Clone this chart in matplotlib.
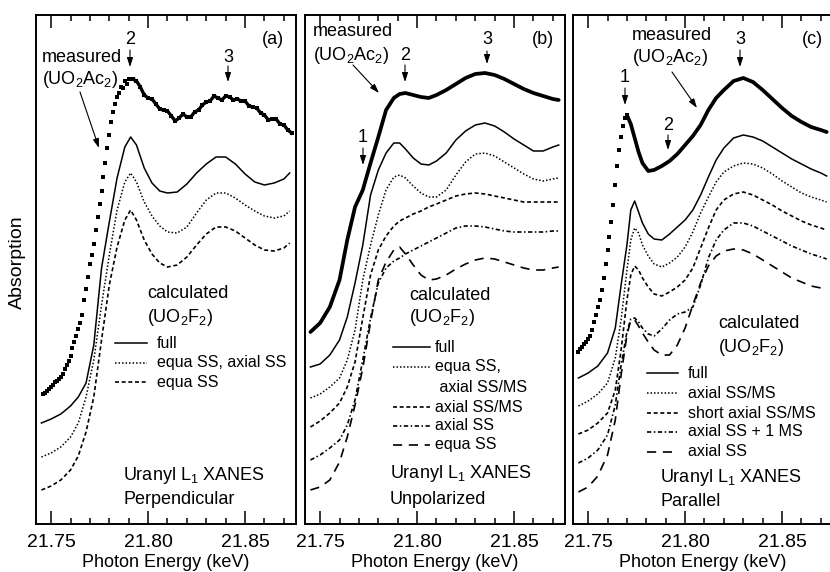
#!/usr/bin/env python3
"""Uranyl L1 XANES: measured UO2Ac2 vs calculated UO2F2 spectra, three polarisations."""
import matplotlib
matplotlib.use("Agg")
import matplotlib.pyplot as plt
from matplotlib.ticker import MultipleLocator, FormatStrFormatter

plt.rcParams["font.family"] = ["Liberation Sans", "DejaVu Sans"]
plt.rcParams["mathtext.fontset"] = "custom"
plt.rcParams["mathtext.rm"] = "Liberation Sans"
plt.rcParams["mathtext.it"] = "Liberation Sans:italic"
plt.rcParams["mathtext.default"] = "regular"

# ---- data (energy in keV, absorption in arbitrary offset units) ----
# panel (a) measured, dots
energy_a_meas = [
    21.746, 21.747, 21.748, 21.749, 21.750, 21.751, 21.752, 21.753, 21.754, 21.755,
    21.756, 21.757, 21.758, 21.759, 21.760, 21.761, 21.762, 21.763, 21.764, 21.765,
    21.766, 21.767, 21.768, 21.769, 21.770, 21.771, 21.772, 21.773, 21.774, 21.775,
    21.776, 21.777, 21.778, 21.779, 21.780, 21.781, 21.782, 21.783, 21.784, 21.785,
    21.786, 21.787, 21.788, 21.789, 21.790,
    21.792, 21.794, 21.796, 21.798, 21.800, 21.802, 21.804, 21.806, 21.808, 21.810,
    21.812, 21.814, 21.816, 21.818, 21.820, 21.822, 21.824, 21.826, 21.828, 21.830,
    21.832, 21.834, 21.836, 21.838, 21.840, 21.842, 21.844, 21.846, 21.848, 21.850,
    21.852, 21.854, 21.856, 21.858, 21.860, 21.862, 21.864, 21.866, 21.868, 21.870,
    21.872, 21.874,
]
abs_a_meas = [
    1.30, 1.31, 1.33, 1.35, 1.37, 1.39, 1.42, 1.43, 1.45, 1.47,
    1.50, 1.55, 1.59, 1.63, 1.68, 1.76, 1.82, 1.88, 1.95, 2.01,
    2.09, 2.24, 2.35, 2.47, 2.60, 2.69, 2.80, 2.94, 3.07, 3.20,
    3.33, 3.47, 3.61, 3.76, 3.89, 4.02, 4.12, 4.20, 4.27, 4.31,
    4.37, 4.36, 4.43, 4.40, 4.45,
    4.45, 4.43, 4.37, 4.29, 4.26, 4.25, 4.20, 4.15, 4.14, 4.13,
    4.08, 4.03, 4.06, 4.10, 4.07, 4.07, 4.12, 4.14, 4.19, 4.22,
    4.23, 4.28, 4.26, 4.24, 4.28, 4.27, 4.24, 4.25, 4.23, 4.23,
    4.18, 4.17, 4.16, 4.11, 4.09, 4.04, 4.05, 4.05, 4.00, 3.99,
    3.94, 3.91,
]

# common energy grid for the calculated curves of (a) and (b)
energy_ab = [
    21.745, 21.750, 21.755, 21.760, 21.764, 21.768, 21.772, 21.776, 21.780, 21.784,
    21.788, 21.791, 21.794, 21.798, 21.802, 21.806, 21.810, 21.815, 21.820, 21.825,
    21.830, 21.835, 21.840, 21.845, 21.850, 21.855, 21.860, 21.865, 21.870, 21.873,
]
abs_a_full = [1.01, 1.05, 1.10, 1.18, 1.27, 1.41, 1.79, 2.56, 3.02, 3.46,
              3.77, 3.87, 3.79, 3.56, 3.41, 3.33, 3.31, 3.32, 3.40, 3.51,
              3.60, 3.67, 3.67, 3.60, 3.50, 3.42, 3.39, 3.41, 3.45, 3.51]
abs_a_eq_ax = [0.67, 0.71, 0.77, 0.87, 1.01, 1.27, 1.64, 2.19, 2.69, 3.14,
               3.42, 3.51, 3.42, 3.22, 3.08, 2.98, 2.92, 2.91, 2.97, 3.11,
               3.24, 3.31, 3.31, 3.26, 3.19, 3.13, 3.08, 3.06, 3.08, 3.13]
abs_a_equa = [0.34, 0.38, 0.44, 0.54, 0.68, 0.92, 1.27, 1.84, 2.39, 2.77,
              3.04, 3.14, 3.04, 2.84, 2.70, 2.61, 2.57, 2.59, 2.67, 2.79,
              2.90, 2.97, 2.97, 2.93, 2.86, 2.79, 2.74, 2.73, 2.76, 2.81]

# panel (b)
abs_b_meas = [1.92, 2.01, 2.17, 2.44, 2.84, 3.17, 3.34, 3.61, 3.87, 4.14,
              4.26, 4.30, 4.31, 4.29, 4.27, 4.26, 4.29, 4.34, 4.40, 4.46,
              4.50, 4.51, 4.49, 4.45, 4.40, 4.35, 4.31, 4.28, 4.25, 4.24]
abs_b_full = [1.57, 1.60, 1.69, 1.84, 2.07, 2.41, 2.79, 3.29, 3.54, 3.71,
              3.81, 3.81, 3.75, 3.66, 3.60, 3.59, 3.63, 3.71, 3.84, 3.93,
              3.99, 4.01, 3.98, 3.92, 3.85, 3.79, 3.73, 3.73, 3.77, 3.79]
abs_b_eq_axms = [1.26, 1.30, 1.37, 1.46, 1.64, 1.94, 2.44, 2.79, 3.09, 3.34,
                 3.47, 3.49, 3.46, 3.38, 3.31, 3.27, 3.27, 3.34, 3.49, 3.62,
                 3.70, 3.71, 3.68, 3.62, 3.56, 3.50, 3.45, 3.43, 3.45, 3.46]
abs_b_axms = [0.97, 1.03, 1.11, 1.21, 1.37, 1.62, 2.06, 2.49, 2.74, 2.88,
              2.98, 3.03, 3.06, 3.10, 3.13, 3.17, 3.20, 3.24, 3.28, 3.30,
              3.31, 3.30, 3.28, 3.26, 3.24, 3.22, 3.22, 3.22, 3.22, 3.22]
abs_b_axss = [0.64, 0.69, 0.76, 0.84, 0.99, 1.24, 1.64, 2.06, 2.41, 2.56,
              2.63, 2.66, 2.70, 2.74, 2.78, 2.82, 2.86, 2.91, 2.96, 2.98,
              2.98, 2.97, 2.95, 2.93, 2.92, 2.92, 2.92, 2.92, 2.93, 2.93]
abs_b_equa = [0.34, 0.37, 0.44, 0.62, 0.87, 1.19, 1.56, 2.02, 2.44, 2.62,
              2.74, 2.77, 2.70, 2.59, 2.49, 2.44, 2.45, 2.49, 2.55, 2.60,
              2.64, 2.66, 2.65, 2.62, 2.59, 2.56, 2.54, 2.54, 2.56, 2.57]

# panel (c)
energy_c_rise = [21.745, 21.746, 21.747, 21.748, 21.749, 21.750, 21.751, 21.752, 21.753,
                 21.754, 21.755, 21.756, 21.757, 21.758, 21.759, 21.760, 21.761, 21.762,
                 21.763, 21.764, 21.765, 21.766, 21.767, 21.768, 21.769, 21.770]
abs_c_rise = [1.72, 1.75, 1.77, 1.80, 1.82, 1.85, 1.88, 1.94, 2.02,
              2.09, 2.17, 2.24, 2.34, 2.46, 2.60, 2.74, 2.87, 3.02,
              3.19, 3.39, 3.58, 3.74, 3.87, 3.98, 4.06, 4.09]
energy_c = [
    21.745, 21.750, 21.755, 21.760, 21.764, 21.767, 21.770, 21.772, 21.774, 21.776,
    21.778, 21.781, 21.784, 21.788, 21.792, 21.796, 21.800, 21.804, 21.808, 21.812,
    21.816, 21.820, 21.825, 21.830, 21.835, 21.840, 21.845, 21.850, 21.855, 21.860,
    21.865, 21.870, 21.873,
]
abs_c_meas = [4.09, 4.00, 3.86, 3.72, 3.61, 3.53, 3.54, 3.58, 3.63, 3.70,
              3.79, 3.88, 3.99, 4.14, 4.26, 4.34, 4.43, 4.46, 4.42, 4.34,
              4.25, 4.16, 4.08, 4.02, 3.97, 3.94, 3.92]  # from 21.770 on
abs_c_full = [1.46, 1.51, 1.58, 1.71, 1.96, 2.39, 2.79, 3.14, 3.23, 3.12,
              3.01, 2.90, 2.85, 2.84, 2.90, 2.97, 3.04, 3.14, 3.29, 3.47,
              3.64, 3.76, 3.86, 3.89, 3.87, 3.83, 3.77, 3.71, 3.65, 3.60,
              3.55, 3.51, 3.48]
abs_c_axms = [1.18, 1.23, 1.30, 1.41, 1.66, 2.04, 2.54, 2.84, 2.96, 2.91,
              2.79, 2.68, 2.60, 2.57, 2.61, 2.67, 2.77, 2.92, 3.11, 3.27,
              3.42, 3.52, 3.58, 3.61, 3.60, 3.56, 3.50, 3.43, 3.37, 3.31,
              3.27, 3.24, 3.22]
abs_c_short = [0.90, 0.94, 1.01, 1.11, 1.34, 1.74, 2.24, 2.49, 2.58, 2.54,
               2.46, 2.37, 2.30, 2.28, 2.32, 2.37, 2.44, 2.56, 2.76, 2.96,
               3.14, 3.24, 3.30, 3.32, 3.29, 3.24, 3.19, 3.13, 3.08, 3.03,
               2.99, 2.96, 2.94]
abs_c_ax1ms = [0.61, 0.66, 0.74, 0.89, 1.19, 1.59, 1.92, 2.05, 2.06, 2.02,
               1.96, 1.90, 1.88, 1.95, 2.04, 2.10, 2.12, 2.17, 2.39, 2.66,
               2.84, 2.94, 3.01, 3.01, 2.98, 2.93, 2.88, 2.83, 2.78, 2.74,
               2.70, 2.67, 2.65]
abs_c_axss = [0.32, 0.37, 0.48, 0.69, 1.04, 1.49, 1.89, 2.04, 2.04, 1.98,
              1.91, 1.82, 1.74, 1.69, 1.69, 1.79, 1.96, 2.19, 2.41, 2.58,
              2.68, 2.73, 2.75, 2.74, 2.70, 2.64, 2.58, 2.52, 2.46, 2.42,
              2.38, 2.36, 2.35]

# ---- layout (pixels of the 830x572 canvas) ----
W, H = 830, 572
PANEL_W, TOP, BOTTOM = 259.5, 15, 524
LEFTS = [36, 305, 573]
XLIM = (21.7422, 21.8760)
YLIM = (0, 5.09)

STYLES = {
    "full": dict(ls="-", lw=1.1),
    "dot": dict(ls=(0, (1, 1.3)), lw=1.1),
    "dash": dict(ls=(0, (2.4, 1.6)), lw=1.2),
    "dashdot": dict(ls=(0, (2.6, 1.5, 0.9, 1.5)), lw=1.2),
    "long": dict(ls=(0, (5.5, 4)), lw=1.2),
}
TXT = 13


def frac(ax_left, px, py):
    return ((px - ax_left) / PANEL_W, (BOTTOM - py) / (BOTTOM - TOP))


def label(ax, left, px, py, s, ha="left", size=TXT):
    x, y = frac(left, px, py)
    ax.text(x, y, s, transform=ax.transAxes, ha=ha, va="center", fontsize=size)


def arrow(ax, left, tail, tip):
    ax.annotate("", xy=frac(left, *tip), xytext=frac(left, *tail),
                xycoords="axes fraction", textcoords="axes fraction",
                arrowprops=dict(arrowstyle="-|>,head_length=0.55,head_width=0.18",
                                lw=0.8, color="k", shrinkA=0, shrinkB=0))


def peak_mark(ax, left, px, py_text, py_tail, py_tip, s):
    label(ax, left, px, py_text, s, ha="center")
    arrow(ax, left, (px, py_tail), (px, py_tip))


def legend(ax, left, x0, x1, xt, rows):
    for py, key, s in rows:
        x_a, y = frac(left, x0, py)
        x_b, _ = frac(left, x1, py)
        if key:
            ax.plot([x_a, x_b], [y, y], color="k", transform=ax.transAxes,
                    clip_on=False, **STYLES[key])
        label(ax, left, xt, py, s, size=11.5)


fig = plt.figure(figsize=(W / 100, H / 100), dpi=100)
axes = []
for left in LEFTS:
    ax = fig.add_axes([left / W, (H - BOTTOM) / H, PANEL_W / W, (BOTTOM - TOP) / H])
    ax.set_xlim(*XLIM)
    ax.set_ylim(*YLIM)
    ax.set_yticks([])
    ax.xaxis.set_major_locator(MultipleLocator(0.05))
    ax.xaxis.set_minor_locator(MultipleLocator(0.01))
    ax.xaxis.set_major_formatter(FormatStrFormatter("%.2f"))
    ax.tick_params(axis="x", which="both", direction="in", top=True, bottom=True,
                   width=1.1, labelsize=14, pad=7.5)
    ax.tick_params(axis="x", which="major", length=9.4)
    ax.tick_params(axis="x", which="minor", length=4.3)
    for sp in ax.spines.values():
        sp.set_linewidth(1.4)
    ax.set_xlabel("Photon Energy (keV)", fontsize=13)
    ax.xaxis.set_label_coords(0.5, -0.059)
    axes.append(ax)

ax_a, ax_b, ax_c = axes
la, lb, lc = LEFTS

# (a) perpendicular: noisy measured points, the dense top part joined as a band
n_rise = 45
ax_a.plot(energy_a_meas[n_rise - 1:], abs_a_meas[n_rise - 1:], color="k", lw=2.4)
ax_a.plot(energy_a_meas, abs_a_meas, ls="none", marker="s", ms=3.4, mew=0, color="k")
ax_a.plot(energy_ab, abs_a_full, color="k", **STYLES["full"])
ax_a.plot(energy_ab, abs_a_eq_ax, color="k", **STYLES["dot"])
ax_a.plot(energy_ab, abs_a_equa, color="k", **STYLES["dash"])
label(ax_a, la, 42, 57, "measured")
label(ax_a, la, 42, 80, "(UO$_2$Ac$_2$)")
arrow(ax_a, la, (80, 92), (99, 148))
peak_mark(ax_a, la, 130, 40, 50, 67, "2")
peak_mark(ax_a, la, 228, 57, 66, 82, "3")
label(ax_a, la, 273, 40, "(a)", ha="center")
label(ax_a, la, 147, 293, "calculated")
label(ax_a, la, 147, 318, "(UO$_2$F$_2$)")
legend(ax_a, la, 115, 147, 157, [(343, "full", "full"),
                                 (363, "dot", "equa SS, axial SS"),
                                 (382, "dash", "equa SS")])
label(ax_a, la, 123, 475, "Uranyl L$_1$ XANES")
label(ax_a, la, 123, 500, "Perpendicular")

# (b) unpolarized
ax_b.plot(energy_ab, abs_b_meas, color="k", lw=2.7, solid_capstyle="round")
ax_b.plot(energy_ab, abs_b_full, color="k", **STYLES["full"])
ax_b.plot(energy_ab, abs_b_eq_axms, color="k", **STYLES["dot"])
ax_b.plot(energy_ab, abs_b_axms, color="k", **STYLES["dash"])
ax_b.plot(energy_ab, abs_b_axss, color="k", **STYLES["dashdot"])
ax_b.plot(energy_ab, abs_b_equa, color="k", **STYLES["long"])
label(ax_b, lb, 313, 32, "measured")
label(ax_b, lb, 313, 55, "(UO$_2$Ac$_2$)")
arrow(ax_b, lb, (353, 65), (379, 93))
peak_mark(ax_b, lb, 405, 55, 65, 82, "2")
peak_mark(ax_b, lb, 487, 40, 51, 64, "3")
peak_mark(ax_b, lb, 363, 137, 148, 165, "1")
label(ax_b, lb, 543, 40, "(b)", ha="center")
label(ax_b, lb, 409, 295, "calculated")
label(ax_b, lb, 409, 318, "(UO$_2$F$_2$)")
legend(ax_b, lb, 393, 430, 435, [(347, "full", "full"),
                                 (367, "dot", "equa SS,"),
                                 (387, None, " axial SS/MS"),
                                 (407, "dash", "axial SS/MS"),
                                 (426, "dashdot", "axial SS"),
                                 (445, "long", "equa SS")])
label(ax_b, lb, 390, 473, "Uranyl L$_1$ XANES")
label(ax_b, lb, 390, 500, "Unpolarized")

# (c) parallel
ax_c.plot(energy_c_rise, abs_c_rise, ls="none", marker="s", ms=3.4, mew=0, color="k")
ax_c.plot(energy_c[6:], abs_c_meas, color="k", lw=2.7, solid_capstyle="round")
ax_c.plot(energy_c, abs_c_full, color="k", **STYLES["full"])
ax_c.plot(energy_c, abs_c_axms, color="k", **STYLES["dot"])
ax_c.plot(energy_c, abs_c_short, color="k", **STYLES["dash"])
ax_c.plot(energy_c, abs_c_ax1ms, color="k", **STYLES["dashdot"])
ax_c.plot(energy_c, abs_c_axss, color="k", **STYLES["long"])
label(ax_c, lc, 632, 35, "measured")
label(ax_c, lc, 632, 58, "(UO$_2$Ac$_2$)")
arrow(ax_c, lc, (672, 72), (697, 108))
peak_mark(ax_c, lc, 625, 78, 88, 105, "1")
peak_mark(ax_c, lc, 668, 125, 135, 150, "2")
peak_mark(ax_c, lc, 740, 40, 50, 67, "3")
label(ax_c, lc, 812, 40, "(c)", ha="center")
label(ax_c, lc, 718, 323, "calculated")
label(ax_c, lc, 718, 347, "(UO$_2$F$_2$)")
legend(ax_c, lc, 647, 678, 688, [(373, "full", "full"),
                                 (393, "dot", "axial SS/MS"),
                                 (413, "dash", "short axial SS/MS"),
                                 (432, "dashdot", "axial SS + 1 MS"),
                                 (452, "long", "axial SS")])
label(ax_c, lc, 660, 477, "Uranyl L$_1$ XANES")
label(ax_c, lc, 660, 502, "Parallel")

fig.text(17 / W, 1 - 262 / H, "Absorption", rotation=90, ha="center", va="center",
         fontsize=14)

fig.savefig("out.png", dpi=100)
